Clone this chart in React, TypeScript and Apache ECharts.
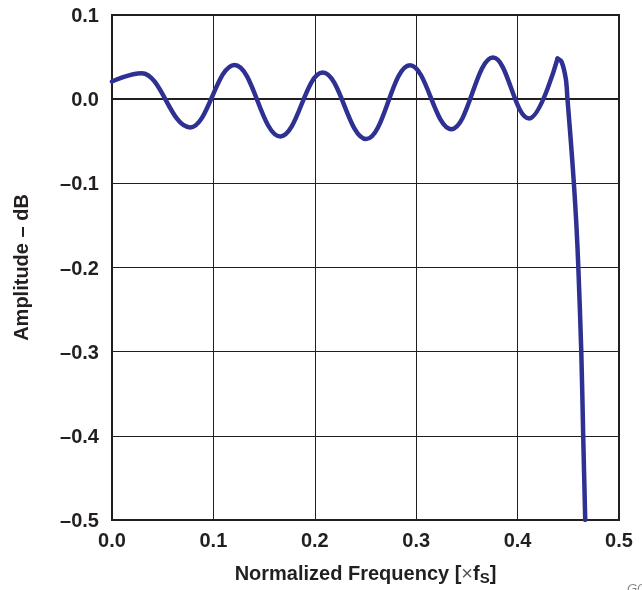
import React, { useEffect, useRef } from "react";
import * as echarts from "echarts";

// Passband ripple: start point, then successive peaks and troughs
const rippleFreq = [
  0, 0.0293, 0.0771, 0.1209, 0.166, 0.2078, 0.2507, 0.2938, 0.3347, 0.3758,
  0.4114, 0.4394,
];
const rippleAmp = [
  0.021, 0.0308, -0.0336, 0.0407, -0.0443, 0.0316, -0.0474, 0.0403, -0.0356,
  0.0494, -0.0229, 0.0482,
];
// Transition band roll-off after the last ripple peak
const rolloffFreq = [
  0.4394, 0.4434, 0.4476, 0.4492, 0.4525, 0.4555, 0.458, 0.4599, 0.4628,
  0.4647, 0.4667,
];
const rolloffAmp = [
  0.0482, 0.0443, 0.0237, 0, -0.05, -0.1, -0.15, -0.2, -0.3, -0.4, -0.5,
];
const xTickLabels = ["0.0", "0.1", "0.2", "0.3", "0.4", "0.5"];
const yTickLabels = ["\u20130.5", "\u20130.4", "\u20130.3", "\u20130.2", "\u20130.1", "0.0", "0.1"];

const INK = "#231F20";
const CURVE = "#2E3192";
const FONT = "'Liberation Sans', Arial, Helvetica, sans-serif";

export default function App() {
  const ref = useRef<HTMLDivElement>(null);
  useEffect(() => {
    document.body.style.margin = "0";
    const chart = echarts.init(ref.current!, null, { renderer: "svg" });
    const ripple = rippleFreq.map((f, i) => [f, rippleAmp[i]]);
    const rolloff = rolloffFreq.map((f, i) => [f, rolloffAmp[i]]);
    chart.setOption({
      animation: false,
      grid: {
        left: 112,
        right: 23,
        top: 15,
        bottom: 69,
        show: true,
        borderColor: INK,
        borderWidth: 2,
        backgroundColor: "transparent",
      },
      xAxis: {
        type: "value",
        min: 0,
        max: 0.5,
        interval: 0.1,
        name: "{m|Normalized Frequency [}{x|\u00d7}{m|f}{s|S}{m|]}",
        nameLocation: "middle",
        nameGap: 41,
        nameTextStyle: {
          rich: {
            m: { fontSize: 20, fontWeight: "bold", fontFamily: FONT, color: INK, lineHeight: 24 },
            x: { fontSize: 20, fontWeight: "normal", fontFamily: FONT, color: "#555555", lineHeight: 24 },
            s: { fontSize: 15, fontWeight: "bold", fontFamily: FONT, color: INK, lineHeight: 12, verticalAlign: "bottom" },
          },
        },
        axisLine: { show: true, lineStyle: { color: INK, width: 2 } },
        axisTick: { show: false },
        splitLine: { show: true, lineStyle: { color: INK, width: 1 } },
        axisLabel: {
          margin: 10,
          fontSize: 20,
          fontWeight: "bold",
          fontFamily: FONT,
          color: INK,
          formatter: (v: number) => xTickLabels[Math.round(v * 10)] ?? "",
        },
      },
      yAxis: {
        type: "value",
        min: -0.5,
        max: 0.1,
        interval: 0.1,
        name: "Amplitude \u2013 dB",
        nameLocation: "middle",
        nameRotate: 90,
        nameGap: 81,
        nameTextStyle: { fontSize: 20, fontWeight: "bold", fontFamily: FONT, color: INK },
        axisLine: { show: true, lineStyle: { color: INK, width: 2 } },
        axisTick: { show: false },
        splitLine: { show: true, lineStyle: { color: INK, width: 1 } },
        axisLabel: {
          margin: 13,
          fontSize: 20,
          fontWeight: "bold",
          fontFamily: FONT,
          color: INK,
          formatter: (v: number) => yTickLabels[Math.round(v * 10) + 5] ?? "",
        },
      },
      graphic: [
        {
          type: "text",
          left: 627,
          top: 582,
          style: { text: "G002", fontSize: 13, fontStyle: "italic", fontFamily: FONT, fill: "#888888" },
        },
      ],
      series: [
        {
          type: "line",
          data: ripple,
          smooth: 0.4,
          smoothMonotone: "x",
          showSymbol: false,
          lineStyle: { color: CURVE, width: 4.5, cap: "round", join: "round" },
        },
        {
          type: "line",
          data: rolloff,
          smooth: 0.3,
          showSymbol: false,
          lineStyle: { color: CURVE, width: 4.5, cap: "round", join: "round" },
        },
      ],
    });
    return () => chart.dispose();
  }, []);
  return (
    <div
      ref={ref}
      style={{ position: "fixed", left: 0, top: 0, width: 642, height: 590 }}
    />
  );
}
